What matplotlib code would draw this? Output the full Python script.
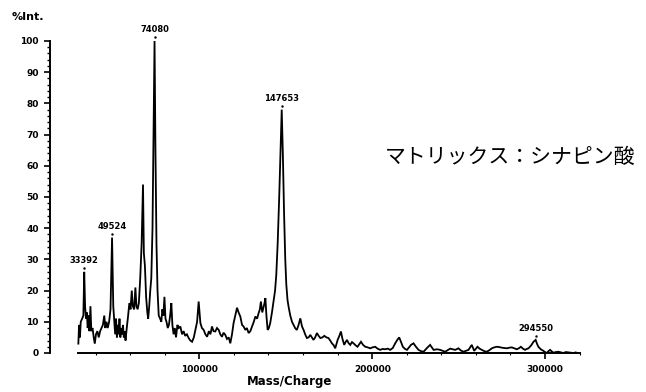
import matplotlib
matplotlib.use('Agg')
import matplotlib.pyplot as plt
from matplotlib.ticker import MultipleLocator, FixedLocator

# spectrum trace (mass in thousands, % intensity)
mass_k = [
    30.0, 30.4, 30.9, 31.4, 32.2, 32.9, 33.4, 33.9, 34.4, 34.9, 35.4, 35.9, 36.4, 37.0, 37.5,
    38.2, 38.9, 39.5, 40.2, 41.0, 41.8, 42.6, 43.4, 44.2, 45.0, 45.6, 46.3, 47.0, 47.8, 48.6,
    49.5, 50.2, 50.8, 51.3, 51.8, 52.3, 52.8, 53.3, 53.8, 54.3, 54.8, 55.3, 55.8, 56.3, 56.8,
    57.3, 58.0, 58.8, 59.5, 60.2, 60.9, 61.5, 62.3, 63.0, 63.6, 64.3, 65.0, 65.8, 66.6, 67.4,
    67.9, 68.5, 69.2, 69.9, 70.4, 71.0, 71.6, 72.2, 72.9, 73.5, 74.08, 74.6, 75.2, 75.8, 76.5,
    77.3, 78.0, 78.6, 79.2, 79.8, 80.4, 81.0, 81.7, 82.4, 83.1, 83.8, 84.4, 85.1, 85.8, 86.5,
    87.3, 88.1, 89.0, 90.0, 90.9, 91.8, 92.8, 93.8, 94.8, 95.8, 96.8, 97.7, 98.7, 99.6, 100.6,
    101.5, 102.5, 103.5, 104.5, 105.5, 106.4, 107.3, 108.2, 109.2, 110.2, 111.2, 112.1, 113.1, 114.0, 115.0,
    116.0, 117.0, 117.9, 118.9, 119.8, 120.8, 121.8, 122.7, 123.7, 124.7, 125.6, 126.6, 127.5, 128.5, 129.5,
    130.5, 131.5, 132.4, 133.4, 134.3, 135.0, 135.6, 136.4, 137.2, 137.7, 138.2, 138.8, 139.5, 140.2, 141.0,
    142.0, 143.0, 143.8, 144.5, 145.3, 146.2, 147.0, 147.65, 148.3, 149.0, 149.7, 150.3, 151.0, 151.6, 152.6,
    153.6, 154.5, 155.5, 156.4, 157.4, 158.4, 159.4, 160.3, 161.2, 162.2, 163.2, 164.2, 165.1, 166.0, 167.0,
    168.0, 169.0, 170.0, 171.2, 172.3, 173.5, 174.7, 175.7, 176.7, 177.7, 178.6, 180.0, 181.0, 181.9, 182.8,
    183.8, 184.6, 185.4, 186.3, 187.3, 188.3, 189.2, 190.3, 191.5, 192.5, 193.5, 194.7, 196.0, 197.4, 198.8,
    200.2, 201.7, 203.1, 204.6, 206.0, 207.5, 209.0, 210.4, 211.9, 213.3, 214.5, 215.6, 216.7, 217.7, 219.0,
    220.1, 221.3, 222.4, 223.9, 225.3, 226.8, 228.2, 229.7, 231.5, 233.5, 234.5, 235.5, 237.5, 239.3, 240.7,
    242.2, 243.6, 245.1, 246.5, 248.0, 249.9, 251.3, 252.8, 254.2, 255.7, 257.6, 259.0, 260.9, 262.1, 263.4,
    264.8, 266.3, 267.8, 269.2, 270.6, 272.1, 273.5, 275.0, 276.5, 277.9, 279.3, 280.8, 282.2, 283.6, 284.8,
    286.0, 287.2, 288.4, 289.4, 290.4, 291.9, 293.3, 294.55, 295.3, 296.1, 297.5, 299.0, 300.0, 301.0, 302.0,
    302.9, 303.9, 304.8, 306.2, 307.7, 309.2, 310.6, 312.0, 313.5, 315.0, 316.4, 317.8, 319.3,
]
intensity = [
    3, 9, 5, 10, 11, 12, 26, 15, 11, 13, 8, 12, 7, 15, 7,
    8, 5, 3, 6, 7, 5, 7, 8, 9, 12, 8, 10, 8, 10, 14,
    37, 15, 10, 6, 11, 5, 9, 6, 11, 5, 8, 6, 9, 5, 7,
    4, 8, 12, 16, 14, 20, 15, 14, 21, 15, 14, 16, 24, 35, 54,
    32, 28, 18, 13, 11, 15, 20, 24, 40, 70, 100, 65, 35, 20, 12,
    11, 10, 14, 12, 18, 11, 10, 8, 9, 12, 16, 9, 6, 8, 5,
    9, 8, 8.5, 6, 7, 5.5, 6, 4.8, 4, 3.6, 5, 7.4, 10, 16.5, 9.6,
    8, 7.4, 6, 5.2, 7, 6, 8.5, 7, 6.9, 8, 7.4, 6, 5.2, 6.5, 5.8,
    4.5, 5, 3.1, 6, 9.6, 12, 14.5, 13, 11.7, 9, 8.5, 7.4, 8, 6.4, 7,
    8.5, 10, 11.7, 11, 12.8, 14, 16.5, 13, 14.9, 16, 17.6, 12, 7.4, 8, 9.6,
    13, 17, 20, 25, 35, 50, 65, 78, 64, 45, 30, 22, 17, 14.9, 12,
    10, 9, 7.9, 7.4, 9, 11.1, 8.5, 7.4, 6, 4.8, 5, 5.8, 5, 4.2, 5,
    6.4, 5.5, 4.8, 5, 5.5, 5, 4.8, 4, 3.1, 2.5, 1.5, 4.2, 5.5, 6.9, 4.5,
    2.6, 3.5, 4.2, 3.2, 2.6, 3.5, 3.1, 2.5, 2, 2.8, 3.6, 2.6, 2, 1.8, 1.5,
    1.8, 2, 1.4, 1, 1.3, 1.2, 1.4, 1, 1.6, 3.1, 4.2, 5, 3.5, 2, 1.3,
    1, 1.8, 2.6, 3.1, 2, 1, 0.6, 0.4, 1.5, 2.6, 1.8, 1, 1.2, 1, 0.7,
    0.4, 0.9, 1.4, 1.2, 1, 1.5, 0.8, 0.4, 0.7, 1, 2.6, 0.7, 2, 1.4, 1,
    0.6, 0.4, 0.9, 1.5, 1.8, 2, 1.9, 1.7, 1.6, 1.5, 1.7, 1.8, 1.5, 1.2, 1.5,
    2, 1.4, 1, 1.3, 1.5, 2.4, 3.6, 4.2, 3, 2, 1.2, 0.7, 0.3, 0, 0.6,
    1, 0.5, 0.1, 0.3, 0.4, 0.2, 0, 0.3, 0.2, 0.1, 0, 0.2, -0.8,
]
mass = [m * 1000 for m in mass_k]

# labelled peaks
peak_masses = [33392, 49524, 74080, 147653, 294550]
peak_heights = [26, 37, 100, 78, 4.2]

x_ticks = [100000, 200000, 300000]
x_minor = [40000, 60000, 80000, 120000, 140000, 160000, 180000,
           220000, 240000, 260000, 280000, 320000]
y_ticks = [0, 10, 20, 30, 40, 50, 60, 70, 80, 90, 100]

W, H = 646, 392
fig = plt.figure(figsize=(W / 100, H / 100), dpi=100)
# axes placed in pixel terms: y spine at x=50, y=0 at row 353, y=100 at row 41
ax = fig.add_axes([50 / W, (H - 353) / H, 535 / W, 312 / H])

ax.plot(mass, intensity, color='black', lw=1.3, solid_joinstyle='miter')

ax.set_xlim(13600, 323100)
ax.set_ylim(0, 100)

for s in ['top', 'right']:
    ax.spines[s].set_visible(False)
ax.spines['left'].set_linewidth(1.4)
ax.spines['bottom'].set_linewidth(1.4)
ax.spines['bottom'].set_bounds(29800, 320200)

ax.xaxis.set_major_locator(FixedLocator(x_ticks))
ax.xaxis.set_minor_locator(FixedLocator(x_minor))
ax.yaxis.set_major_locator(FixedLocator(y_ticks))
ax.yaxis.set_minor_locator(MultipleLocator(2))
ax.set_xticklabels([str(t) for t in x_ticks])
ax.set_yticklabels([str(t) for t in y_ticks])

ax.tick_params(axis='both', which='major', direction='out', length=4, width=1.2,
               labelsize=6.5)
ax.tick_params(axis='x', which='minor', direction='out', length=1.5, width=0.8)
ax.tick_params(axis='y', which='minor', direction='out', length=2.5, width=1.0)
for lab in ax.get_xticklabels() + ax.get_yticklabels():
    lab.set_fontweight('bold')
ax.tick_params(axis='y', which='major', pad=4)
ax.tick_params(axis='x', which='major', pad=5)

# peak labels with little marker dot
for m, h in zip(peak_masses, peak_heights):
    ax.text(m, h + 2.2, str(m), ha='center', va='bottom', fontsize=6,
            fontweight='bold', clip_on=False)
    ax.plot([m], [h + 1.2], marker='.', ms=1.5, color='black', clip_on=False)

fig.text(12 / W, 1 - 17 / H, '%Int.', fontsize=8, fontweight='bold',
         ha='left', va='center')
fig.text(290 / W, 1 - 382 / H, 'Mass/Charge', fontsize=8.5, fontweight='bold',
         ha='center', va='center')

fig.text(385 / W, 1 - 157 / H, 'マトリックス：シナピン酸', fontsize=15,
         family=['Noto Sans CJK JP', 'DejaVu Sans'], ha='left', va='center')

fig.savefig('out.png', dpi=100)
